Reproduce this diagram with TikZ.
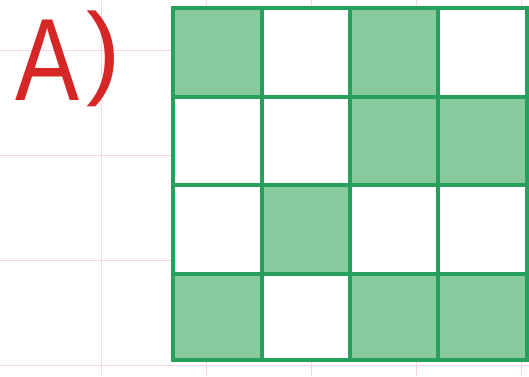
\documentclass[tikz,border=0pt]{standalone}
\usepackage{fontspec}
\setmainfont{Liberation Sans}
\definecolor{cellgreen}{RGB}{136,201,158}
\definecolor{linegreen}{RGB}{38,160,92}
\definecolor{bgpink}{RGB}{244,214,226}
\definecolor{labelred}{RGB}{214,38,38}
\begin{document}
\begin{tikzpicture}[x=1pt,y=-1pt,
  bgline/.style={draw=bgpink,line width=0.8pt},
  cellon/.style={fill=cellgreen},
  gridline/.style={draw=linegreen,line width=3.2pt,line cap=rect},
  lbltext/.style={text=labelred,inner sep=0pt,anchor=base west}]
\useasboundingbox (0,0) rectangle (529,376);
\fill[white] (0,0) rectangle (529,376);
% background squared paper
\foreach \yy in {50,155,260,365} \draw[bgline] (0,\yy) -- (529,\yy);
\foreach \xx in {101,206,311,416,521} \draw[bgline] (\xx,0) -- (\xx,376);
% cells
\def\cx{{173,262,350,438,527}}
\def\cy{{8,97,185,274,360}}
\fill[white] (173,8) rectangle (527,360);
\foreach \c/\r in {0/0,2/0,2/1,3/1,1/2,0/3,2/3,3/3}{
  \pgfmathsetmacro\xa{\cx[\c]}\pgfmathsetmacro\xb{\cx[\c+1]}
  \pgfmathsetmacro\ya{\cy[\r]}\pgfmathsetmacro\yb{\cy[\r+1]}
  \fill[cellon] (\xa,\ya) rectangle (\xb,\yb);
}
\foreach \xx in {173,262,350,438,527} \draw[gridline] (\xx,8) -- (\xx,360);
\foreach \yy in {8,97,185,274,360} \draw[gridline] (173,\yy) -- (527,\yy);
\node[lbltext,font=\fontsize{117}{117}\selectfont,xscale=0.82] (lbla) at (15,100) {A};
\node[lbltext,font=\fontsize{103}{103}\selectfont] (lblp) at (86,85) {)};
\end{tikzpicture}
\end{document}
